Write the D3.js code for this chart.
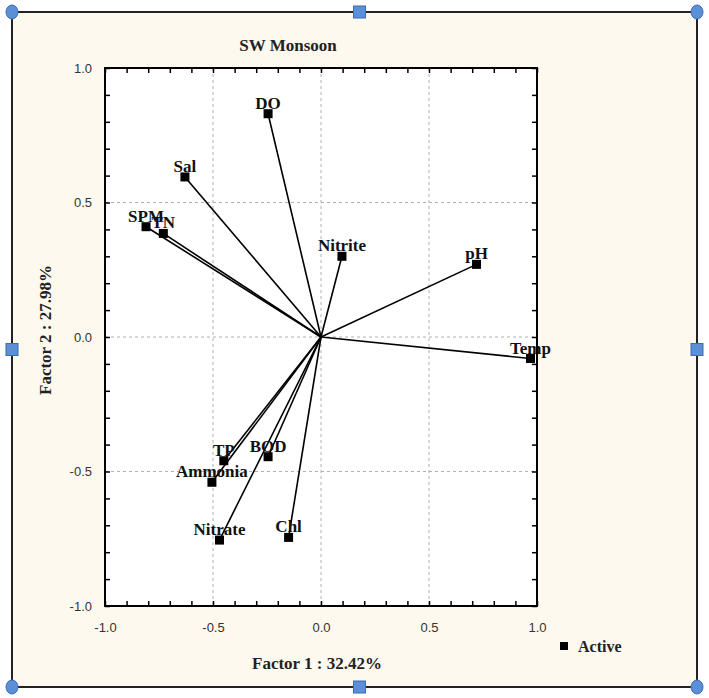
<!DOCTYPE html>
<html>
<head>
<meta charset="utf-8">
<script src="https://cdn.jsdelivr.net/npm/d3@7"></script>
<style>
  html, body { margin: 0; padding: 0; background: #ffffff; }
  svg { display: block; }
</style>
</head>
<body>
<svg id="chart" width="709" height="698"></svg>
<script>
// ---- data ----
const variables = ["DO", "Sal", "SPM", "TN", "Nitrite", "pH", "Temp", "BOD", "TP", "Ammonia", "Nitrate", "Chl"];
const factor1 = [-0.245, -0.63, -0.81, -0.73, 0.097, 0.72, 0.97, -0.245, -0.45, -0.505, -0.47, -0.15];
const factor2 = [0.83, 0.595, 0.41, 0.385, 0.30, 0.27, -0.08, -0.445, -0.46, -0.54, -0.755, -0.745];
const tickLabels = [-1.0, -0.5, 0.0, 0.5, 1.0];
const minorTicks = d3.range(-10, 11).map(d => d / 10);
const gridValues = [-0.5, 0.0, 0.5];
const chartTitle = "SW Monsoon";
const xTitle = "Factor 1 : 32.42%";
const yTitle = "Factor 2 : 27.98%";
const legendLabel = "Active";

const points = variables.map((v, i) => ({ name: v, x: factor1[i], y: factor2[i] }));

// ---- layout ----
const svg = d3.select("#chart");
const frame = { left: 12, right: 697, top: 12, bottom: 687 };
const plot = { left: 105, right: 537, top: 68, bottom: 606 };

const x = d3.scaleLinear().domain([-1, 1]).range([plot.left, plot.right]);
const y = d3.scaleLinear().domain([-1, 1]).range([plot.bottom, plot.top]);

const serif = "'Liberation Serif', 'Times New Roman', serif";
const sans = "'Liberation Sans', Arial, sans-serif";
const fmt = d => d.toFixed(1);

// outer frame background
svg.append("rect")
  .attr("x", frame.left).attr("y", frame.top)
  .attr("width", frame.right - frame.left).attr("height", frame.bottom - frame.top)
  .attr("fill", "#fdf9ef");

// plot area
svg.append("rect")
  .attr("x", plot.left).attr("y", plot.top)
  .attr("width", plot.right - plot.left).attr("height", plot.bottom - plot.top)
  .attr("fill", "#ffffff");

// grid lines
const grid = svg.append("g").attr("stroke", "#b0b0b0").attr("stroke-width", 1).attr("stroke-dasharray", "3,3");
gridValues.forEach(v => {
  grid.append("line").attr("x1", x(v)).attr("x2", x(v)).attr("y1", plot.top).attr("y2", plot.bottom);
  grid.append("line").attr("x1", plot.left).attr("x2", plot.right).attr("y1", y(v)).attr("y2", y(v));
});

// minor ticks (inside) on all four sides
function tickAxis(axis, transform) {
  const g = svg.append("g").attr("transform", transform)
    .call(axis.tickValues(minorTicks).tickSize(-5).tickFormat(""));
  g.select(".domain").remove();
  g.selectAll(".tick line").attr("stroke", "#000").attr("stroke-width", 1.5);
}
tickAxis(d3.axisBottom(x), `translate(0,${plot.bottom})`);
tickAxis(d3.axisTop(x), `translate(0,${plot.top})`);
tickAxis(d3.axisLeft(y), `translate(${plot.left},0)`);
tickAxis(d3.axisRight(y), `translate(${plot.right},0)`);

// tick labels
const xLab = svg.append("g").attr("transform", `translate(0,${plot.bottom + 14})`)
  .call(d3.axisBottom(x).tickValues(tickLabels).tickSize(0).tickFormat(fmt));
xLab.select(".domain").remove();
xLab.selectAll("text").attr("font-family", sans).attr("font-size", 13).attr("fill", "#333");

const yLab = svg.append("g").attr("transform", `translate(${plot.left - 10},0)`)
  .call(d3.axisLeft(y).tickValues(tickLabels).tickSize(0).tickFormat(fmt));
yLab.select(".domain").remove();
yLab.selectAll("text").attr("font-family", sans).attr("font-size", 13).attr("fill", "#333");

// plot border
svg.append("rect")
  .attr("x", plot.left).attr("y", plot.top)
  .attr("width", plot.right - plot.left).attr("height", plot.bottom - plot.top)
  .attr("fill", "none").attr("stroke", "#000").attr("stroke-width", 2);

// vectors
svg.append("g").selectAll("line").data(points).join("line")
  .attr("x1", x(0)).attr("y1", y(0))
  .attr("x2", d => x(d.x)).attr("y2", d => y(d.y))
  .attr("stroke", "#000").attr("stroke-width", 1.6);

// markers
const ms = 9;
svg.append("g").selectAll("rect").data(points).join("rect")
  .attr("x", d => x(d.x) - ms / 2).attr("y", d => y(d.y) - ms / 2)
  .attr("width", ms).attr("height", ms).attr("fill", "#000");

// labels
svg.append("g").selectAll("text").data(points).join("text")
  .attr("x", d => x(d.x)).attr("y", d => y(d.y) - 5)
  .attr("text-anchor", "middle")
  .attr("font-family", serif).attr("font-weight", "bold").attr("font-size", 17)
  .attr("fill", "#111")
  .text(d => d.name);

// titles
svg.append("text").attr("x", 288).attr("y", 51).attr("text-anchor", "middle")
  .attr("font-family", serif).attr("font-weight", "bold").attr("font-size", 17).attr("fill", "#222")
  .text(chartTitle);
svg.append("text").attr("x", 317).attr("y", 669).attr("text-anchor", "middle")
  .attr("font-family", serif).attr("font-weight", "bold").attr("font-size", 17).attr("fill", "#222")
  .text(xTitle);
svg.append("text").attr("transform", "translate(51,330) rotate(-90)").attr("text-anchor", "middle")
  .attr("font-family", serif).attr("font-weight", "bold").attr("font-size", 17).attr("fill", "#222")
  .text(yTitle);

// legend
svg.append("rect").attr("x", 560).attr("y", 642).attr("width", 8).attr("height", 8).attr("fill", "#000");
svg.append("text").attr("x", 578).attr("y", 652)
  .attr("font-family", serif).attr("font-weight", "bold").attr("font-size", 16).attr("fill", "#222")
  .text(legendLabel);

// outer frame border
svg.append("rect")
  .attr("x", frame.left).attr("y", frame.top)
  .attr("width", frame.right - frame.left).attr("height", frame.bottom - frame.top)
  .attr("fill", "none").attr("stroke", "#222").attr("stroke-width", 2);

// selection handles
const midX = (frame.left + frame.right) / 2 + 5;
const midY = (frame.top + frame.bottom) / 2;
const corners = [[frame.left, frame.top], [frame.right, frame.top], [frame.left, frame.bottom], [frame.right, frame.bottom]];
const mids = [[midX, frame.top], [midX, frame.bottom], [frame.left, midY], [frame.right, midY]];
svg.append("g").selectAll("ellipse").data(corners).join("ellipse")
  .attr("cx", d => d[0]).attr("cy", d => d[1]).attr("rx", 6).attr("ry", 7)
  .attr("fill", "#5b8fd8").attr("stroke", "#3d6db5").attr("stroke-width", 1);
svg.append("g").selectAll("rect").data(mids).join("rect")
  .attr("x", d => d[0] - 6).attr("y", d => d[1] - 6).attr("width", 12).attr("height", 12)
  .attr("fill", "#5b8fd8").attr("stroke", "#3d6db5").attr("stroke-width", 1);
</script>
</body>
</html>
